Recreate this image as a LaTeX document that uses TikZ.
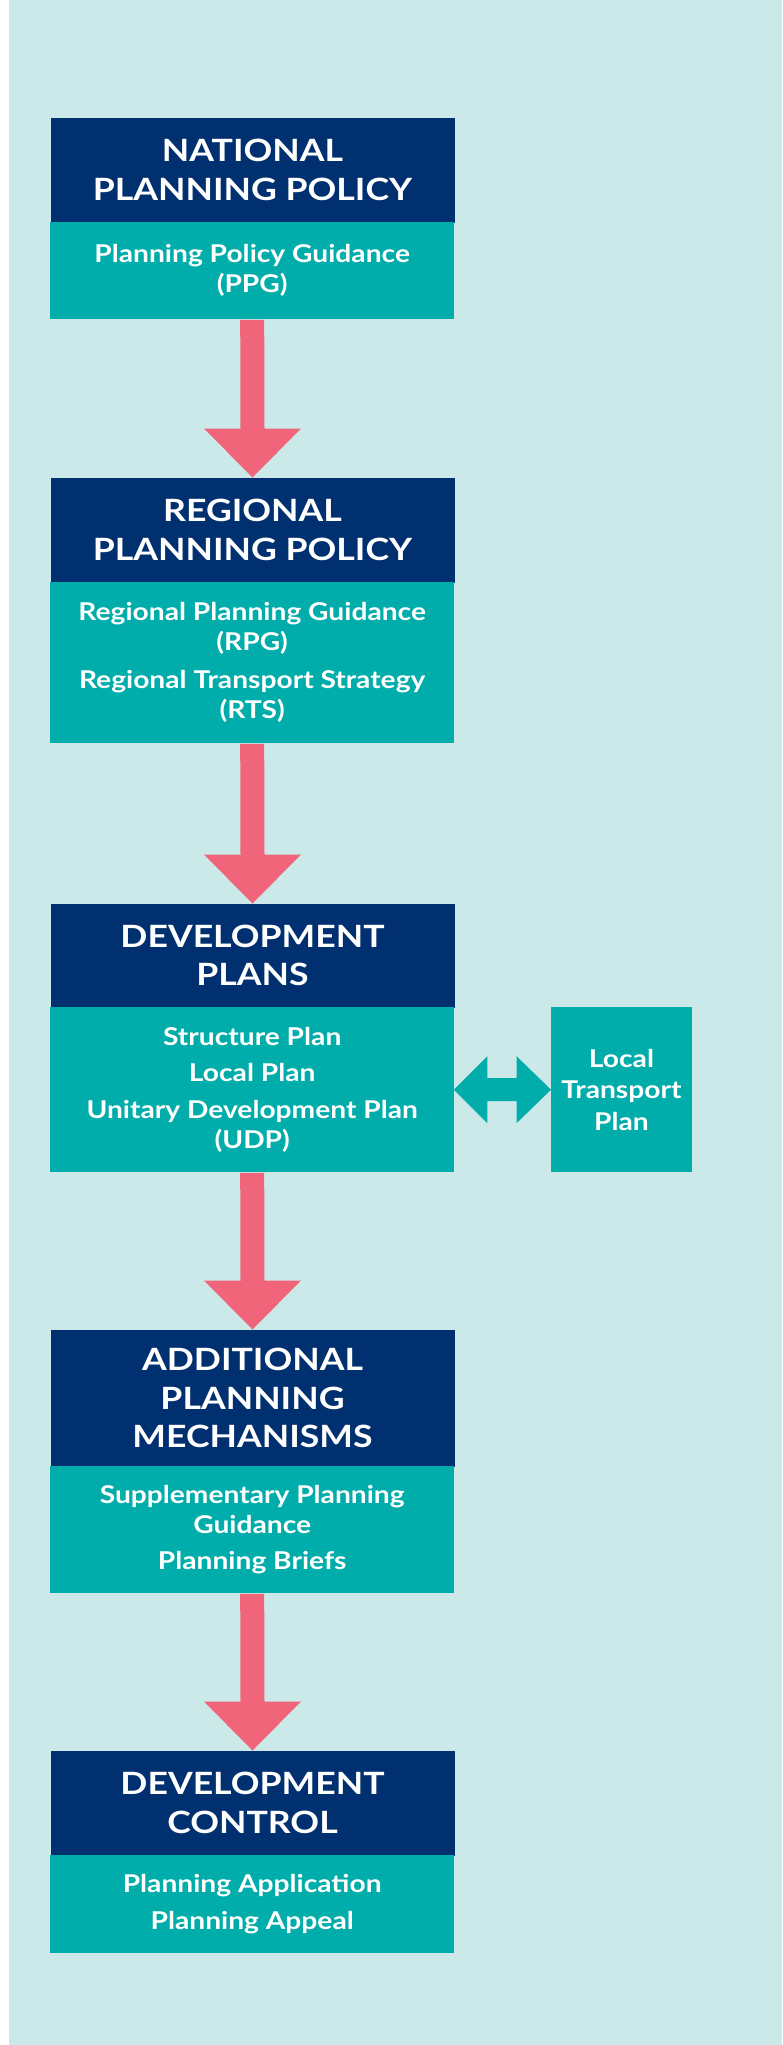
\documentclass[tikz,border=0pt]{standalone}
\usepackage{fontspec}
\newfontfamily\latot[FakeStretch=1.16]{Lato}
\newfontfamily\latob[FakeStretch=1.15]{Lato}
\usetikzlibrary{calc}
\definecolor{bgc}{HTML}{CBE9E8}
\definecolor{navyc}{HTML}{00306F}
\definecolor{tealc}{HTML}{00ADAA}
\definecolor{pinkc}{HTML}{F0657A}
\newcommand\pinkarrow[2]{%
  \fill[pinkc] ($(#1.south)+(-12,0.5)$) -- ($(#2.north)+(-12,-49)$) -- ($(#2.north)+(-48.5,-49)$)
    -- (#2.north) -- ($(#2.north)+(48.5,-49)$) -- ($(#2.north)+(12,-49)$) -- ($(#1.south)+(12,0.5)$) -- cycle;}
\tikzset{
  head/.style={fill=navyc, draw=navyc, line width=1pt, text=white, minimum width=403pt, inner sep=0pt, anchor=north west,
    align=center, font=\latot\bfseries\fontsize{30.7}{38.5}\selectfont},
  bodybox/.style={fill=tealc, text=white, minimum width=404pt, inner sep=0pt, anchor=north west,
    align=center, font=\latob\bfseries\fontsize{24.5}{30}\selectfont},
}
\begin{document}
\begin{tikzpicture}[x=1pt,y=-1pt]
\useasboundingbox (0,0) rectangle (782,2045);
\fill[white] (0,0) rectangle (782,2045);
\fill[bgc] (9,0) rectangle (782,2045);

\node[head, minimum height=104pt] (h1) at (50.5,117.5) {NATIONAL\\PLANNING POLICY};
\node[bodybox, minimum height=97pt] (b1) at (50,222) {Planning Policy Guidance\\(PPG)};

\node[head, minimum height=104pt] (h2) at (50.5,477.5) {REGIONAL\\PLANNING POLICY};
\node[bodybox, minimum height=161pt] (b2) at (50,582) {Regional Planning Guidance\\(RPG)\\[8pt]Regional Transport Strategy\\(RTS)};

\node[head, minimum height=103pt] (h3) at (50.5,903.5) {DEVELOPMENT\\PLANS};
\node[bodybox, minimum height=165pt] (b3) at (50,1007) {Structure Plan\\[6.5pt]Local Plan\\[6.5pt]Unitary Development Plan\\(UDP)};

\node[bodybox, minimum width=141.5pt, minimum height=165pt, font=\latob\bfseries\fontsize{24.5}{31.5}\selectfont] (ltp) at (550.5,1007) {Local\\Transport\\Plan};

\node[head, minimum height=136pt] (h4) at (50.5,1329.5) {ADDITIONAL\\PLANNING\\MECHANISMS};
\node[bodybox, minimum height=127pt] (b4) at (50,1466) {Supplementary Planning\\Guidance\\[6.5pt]Planning Briefs};

\node[head, minimum height=104pt] (h5) at (50.5,1750.5) {DEVELOPMENT\\CONTROL};
\node[bodybox, minimum height=98pt] (b5) at (50,1855) {Planning Application\\[7pt]Planning Appeal};

\pinkarrow{b1}{h2}
\pinkarrow{b2}{h3}
\pinkarrow{b3}{h4}
\pinkarrow{b4}{h5}

\fill[tealc] ($(b3.east)+(-0.5,0)$) -- ($(b3.east)+(33,-33.5)$) -- ($(b3.east)+(33,-11.5)$) -- ($(ltp.west)+(-34,-11.5)$)
  -- ($(ltp.west)+(-34,-33.5)$) -- ($(ltp.west)+(0.5,0)$) -- ($(ltp.west)+(-34,33.5)$) -- ($(ltp.west)+(-34,11.5)$)
  -- ($(b3.east)+(33,11.5)$) -- ($(b3.east)+(33,33.5)$) -- cycle;
\end{tikzpicture}
\end{document}
